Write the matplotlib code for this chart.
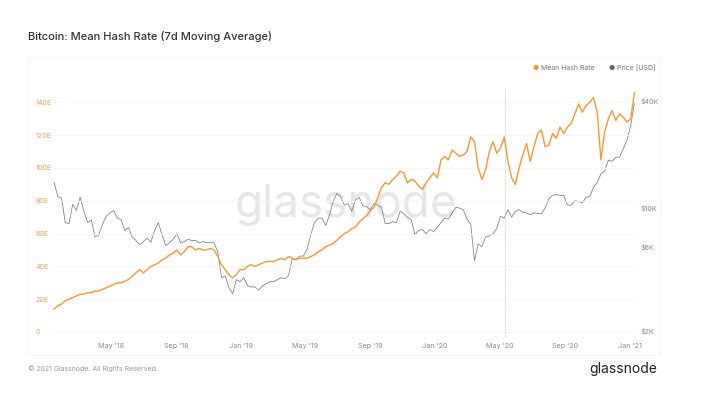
import matplotlib.pyplot as plt
import matplotlib.ticker as mticker
import pandas as pd

plt.rcParams['font.family'] = ['Inter', 'DejaVu Sans']

# weekly samples, 2018-01-14 .. 2021-01-10
dates = pd.date_range("2018-01-14", periods=157, freq="7D")

# mean hash rate, 7d MA (EH/s)
hash_2018 = [14, 16, 17, 19, 20, 21, 22, 23, 23, 24,
             24, 25, 25, 26, 27, 28, 29, 30, 30, 31,
             32, 34, 36, 38, 36, 38, 40, 41, 42, 44,
             45, 47, 48, 50, 47, 49, 52, 52, 50, 51,
             50, 50, 51, 50, 46, 41, 38, 35, 33, 35, 38]
hash_2019 = [38, 40, 41, 40, 41, 42, 43, 43, 43, 44,
             45, 44, 46, 45, 44, 45, 45, 45, 46, 47,
             49, 50, 52, 53, 54, 56, 58, 60, 61, 63,
             64, 67, 69, 71, 74, 76, 82, 88, 91, 90,
             93, 95, 98, 97, 91, 93, 92, 89, 87, 91, 94, 97]
hash_2020 = [94, 105, 107, 105, 111, 109, 107, 108, 110, 119,
             116, 100, 93, 99, 110, 116, 109, 112, 119, 104,
             94, 90, 100, 108, 115, 104, 113, 121, 123, 113,
             114, 121, 118, 125, 121, 125, 127, 133, 139, 134,
             138, 140, 143, 134, 105, 122, 130, 135, 129, 133, 131, 128]
hash_2021 = [130, 146]
hash_rate = hash_2018 + hash_2019 + hash_2020 + hash_2021

# BTC price (USD)
price_2018 = [13800, 11500, 11300, 8200, 8100, 10400, 9600, 11400, 9500, 8200,
              8500, 6800, 7000, 8000, 8900, 9300, 9600, 8700, 8500, 7400,
              7700, 6800, 6500, 6150, 6400, 6700, 6350, 7400, 8200, 7000,
              6100, 6300, 6600, 7100, 6300, 6400, 6600, 6500, 6500, 6300,
              6400, 6300, 6350, 6300, 5600, 4000, 4100, 3500, 3250, 3900, 3800]
price_2019 = [4000, 3600, 3550, 3550, 3400, 3600, 3700, 3800, 3800, 3900,
              4000, 3950, 4100, 5100, 5100, 5300, 5300, 5800, 7000, 8200,
              8700, 8700, 7900, 9000, 10800, 12000, 11500, 10300, 10500, 9500,
              11000, 11400, 10200, 10100, 9700, 10500, 10300, 10000, 8100, 8100,
              8300, 8200, 9500, 9200, 8800, 8500, 7000, 7400, 7500, 7100, 7500, 7300]
price_2020 = [7700, 8200, 8700, 8600, 9300, 10000, 9900, 9700, 8600, 8000,
              5000, 6200, 6000, 6800, 6900, 7100, 7600, 8900, 8700, 9700,
              8800, 9500, 9700, 9400, 9300, 9100, 9300, 9250, 9200, 9900,
              11200, 11700, 11800, 11700, 11700, 10300, 10300, 10900, 10800, 10600,
              11400, 11500, 13000, 13800, 15500, 16000, 18500, 18200, 19200, 19200, 21500, 24000]
price_2021 = [29000, 39000]
price = price_2018 + price_2019 + price_2020 + price_2021

halving = pd.Timestamp("2020-05-11")

x_ticks = ["2018-05-01", "2018-09-01", "2019-01-01", "2019-05-01", "2019-09-01",
           "2020-01-01", "2020-05-01", "2020-09-01", "2021-01-01"]
x_labels = ["May '18", "Sep '18", "Jan '19", "May '19", "Sep '19",
            "Jan '20", "May '20", "Sep '20", "Jan '21"]
hash_ticks = [0, 20, 40, 60, 80, 100, 120, 140]
hash_labels = ["0", "20E", "40E", "60E", "80E", "100E", "120E", "140E"]
price_ticks = [2000, 6000, 10000, 40000]
price_labels = ["$2K", "$6K", "$10K", "$40K"]

orange = "#f39a2e"
grey_line = "#858585"
label_grey = "#8a8a8a"

W, H = 701, 405
fig = plt.figure(figsize=(W / 100, H / 100), dpi=100)

# panel frame
frame = plt.Rectangle((28 / W, 1 - 355 / H), (660 - 28) / W, (355 - 57) / H,
                      transform=fig.transFigure, fill=False, edgecolor="#f5f5f5", lw=0.8)
fig.add_artist(frame)

left, right, top, bottom = 52, 636, 85, 337
ax = fig.add_axes([left / W, 1 - bottom / H, (right - left) / W, (bottom - top) / H])
ax2 = ax.twinx()
ax.set_zorder(ax2.get_zorder() + 1)
ax.patch.set_visible(False)

ax.plot(dates, hash_rate, color=orange, lw=1.0, zorder=3)
ax2.plot(dates, price, color=grey_line, lw=0.6)
ax.axvline(halving, color="#dcdcdc", lw=0.8, ls=(0, (2, 1)), ymax=0.99)

ax.set_xlim(pd.Timestamp("2018-01-10"), pd.Timestamp("2021-01-13"))
ax.set_ylim(-3.05, 150.6)
ax2.set_yscale("log")
ax2.set_ylim(1849, 49200)

ax.set_xticks(pd.to_datetime(x_ticks))
ax.set_xticklabels(x_labels)
ax.set_yticks(hash_ticks)
ax.set_yticklabels(hash_labels)
ax2.yaxis.set_major_locator(mticker.FixedLocator(price_ticks))
ax2.yaxis.set_major_formatter(mticker.FixedFormatter(price_labels))
ax2.yaxis.set_minor_locator(mticker.NullLocator())

ax.grid(axis="y", color="#f6f6f6", lw=0.6)
ax.tick_params(axis="y", length=0, pad=12, labelsize=5.2, labelcolor="#e2a55c")
for t in ax.get_yticklabels():
    t.set_horizontalalignment("left")
ax.tick_params(axis="x", length=0, pad=4, labelsize=5.2, labelcolor=label_grey)
ax2.tick_params(axis="y", length=0, pad=3, labelsize=5.2, labelcolor=label_grey)
for a in (ax, ax2):
    for s in a.spines.values():
        s.set_visible(False)

# watermark
fig.text(346 / W, 1 - 205 / H, "glassnode", fontsize=33, color="#e6e6e6",
         ha="center", va="center", zorder=-1)

fig.text(28 / W, 1 - 37 / H, "Bitcoin: Mean Hash Rate (7d Moving Average)",
         fontsize=8, color="#333333", ha="left", va="center", fontweight="medium")

# legend
fig.text(536 / W, 1 - 68 / H, "●", fontsize=5, color=orange, ha="center", va="center")
fig.text(541 / W, 1 - 68 / H, "Mean Hash Rate", fontsize=5, color="#777777", ha="left", va="center")
fig.text(612 / W, 1 - 68 / H, "●", fontsize=5, color="#666666", ha="center", va="center")
fig.text(617 / W, 1 - 68 / H, "Price [USD]", fontsize=5, color="#777777", ha="left", va="center")

fig.text(28 / W, 1 - 369 / H, "© 2021 Glassnode. All Rights Reserved.",
         fontsize=5, color="#999999", ha="left", va="center")
fig.text(657 / W, 1 - 369 / H, "glassnode", fontsize=10, color="#222222",
         ha="right", va="center")

fig.savefig("out.png", dpi=100)
